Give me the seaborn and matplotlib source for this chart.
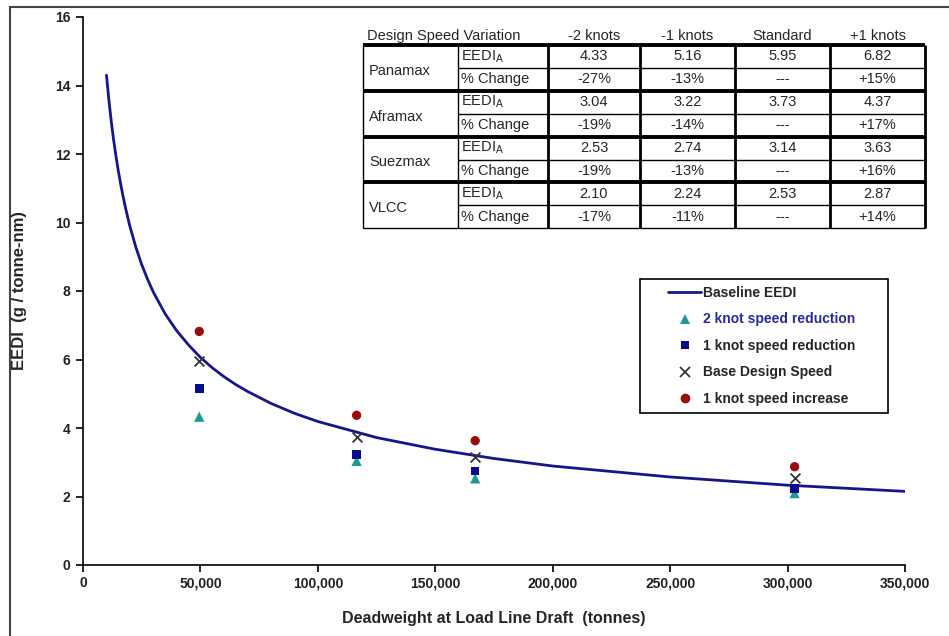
import numpy as np
import pandas as pd
import seaborn as sns
import matplotlib
matplotlib.use("Agg")
import matplotlib.pyplot as plt
from matplotlib.lines import Line2D
from matplotlib.patches import Rectangle

# ---------------- data ----------------
ships = ["Panamax", "Aframax", "Suezmax", "VLCC"]
ship_dwt = [49500, 116500, 167000, 303000]
speed_labels = ["-2 knots", "-1 knots", "Standard", "+1 knots"]
eedi_minus2 = [4.33, 3.04, 2.53, 2.10]
eedi_minus1 = [5.16, 3.22, 2.74, 2.24]
eedi_standard = [5.95, 3.73, 3.14, 2.53]
eedi_plus1 = [6.82, 4.37, 3.63, 2.87]
pct_minus2 = ["-27%", "-19%", "-19%", "-17%"]
pct_minus1 = ["-13%", "-14%", "-13%", "-11%"]
pct_standard = ["---", "---", "---", "---"]
pct_plus1 = ["+15%", "+17%", "+16%", "+14%"]

# baseline curve
curve_dwt = [10000, 11000, 12000, 13000, 14000, 15000, 16000, 17000, 18000,
             19000, 20000, 22500, 25000, 27500, 30000, 35000, 40000, 45000,
             50000, 55000, 60000, 65000, 70000, 80000, 90000, 100000, 125000,
             150000, 175000, 200000, 250000, 300000, 350000]
curve_eedi = [14.30, 13.59, 12.97, 12.43, 11.95, 11.52, 11.14, 10.78, 10.46,
              10.16, 9.88, 9.28, 8.77, 8.34, 7.96, 7.33, 6.83, 6.42,
              6.06, 5.76, 5.50, 5.27, 5.07, 4.72, 4.43, 4.19, 3.72,
              3.38, 3.11, 2.89, 2.57, 2.33, 2.15]

x_ticks = [0, 50000, 100000, 150000, 200000, 250000, 300000, 350000]
x_ticklabels = ["0", "50,000", "100,000", "150,000", "200,000", "250,000", "300,000", "350,000"]
y_ticks = [0, 2, 4, 6, 8, 10, 12, 14, 16]

series_names = ["2 knot speed reduction", "1 knot speed reduction",
                "Base Design Speed", "1 knot speed increase"]

# ---------------- style ----------------
sns.set_style("ticks")
plt.rcParams["font.family"] = ["Liberation Sans", "DejaVu Sans"]
plt.rcParams["mathtext.fontset"] = "custom"
plt.rcParams["mathtext.rm"] = "Liberation Sans"
plt.rcParams["mathtext.it"] = "Liberation Sans:italic"
plt.rcParams["mathtext.bf"] = "Liberation Sans:bold"

W, H = 949, 636
fig = plt.figure(figsize=(W / 100, H / 100), dpi=100)
ax = fig.add_axes([83 / W, 1 - 565 / H, 822 / W, 548 / H])

def fx(x):
    return x / W

def fy(y):
    return 1 - y / H

curve_df = pd.DataFrame({"dwt": curve_dwt, "eedi": curve_eedi})
sns.lineplot(data=curve_df, x="dwt", y="eedi", ax=ax, color="#16168a",
             linewidth=2.0, sort=False, estimator=None, legend=False)

pts = pd.DataFrame({
    "dwt": ship_dwt * 4,
    "eedi": eedi_minus2 + eedi_minus1 + eedi_standard + eedi_plus1,
    "series": sum([[s] * len(ships) for s in series_names], []),
})
marker_map = {"2 knot speed reduction": "^", "1 knot speed reduction": "s",
              "Base Design Speed": "x", "1 knot speed increase": "o"}
color_map = {"2 knot speed reduction": "#1e9a92", "1 knot speed reduction": "#0a0a8c",
             "Base Design Speed": "#333333", "1 knot speed increase": "#990d0d"}
size_map = {"2 knot speed reduction": 55, "1 knot speed reduction": 38,
            "Base Design Speed": 50, "1 knot speed increase": 45}
for s in series_names:
    sub = pts[pts["series"] == s]
    sns.scatterplot(data=sub, x="dwt", y="eedi", ax=ax, marker=marker_map[s],
                    color=color_map[s], s=size_map[s], linewidth=1.3 if s == "Base Design Speed" else 0,
                    edgecolor=None if s == "Base Design Speed" else "none", legend=False, zorder=3)

ax.set_xlim(0, 350000)
ax.set_ylim(0, 16)
ax.set_xticks(x_ticks)
ax.set_xticklabels(x_ticklabels)
ax.set_yticks(y_ticks)
for lbl in ax.get_xticklabels() + ax.get_yticklabels():
    lbl.set_fontweight("bold")
    lbl.set_fontsize(10)
    lbl.set_color("#222222")
ax.tick_params(axis="both", direction="out", length=5, width=1.2, color="black", pad=4)
ax.tick_params(axis="x", pad=3)
sns.despine(ax=ax)
for sp in ["left", "bottom"]:
    ax.spines[sp].set_linewidth(1.2)
    ax.spines[sp].set_color("black")
ax.set_xlabel("Deadweight at Load Line Draft  (tonnes)", fontsize=11.5, fontweight="bold", labelpad=15)
ax.set_ylabel("EEDI  (g / tonne-nm)", fontsize=12, fontweight="bold", labelpad=20)

# ---------------- legend ----------------
handles = [
    Line2D([], [], color="#16168a", lw=2.0),
    Line2D([], [], ls="none", marker="^", color=color_map[series_names[0]], markersize=7, markeredgewidth=0),
    Line2D([], [], ls="none", marker="s", color=color_map[series_names[1]], markersize=6, markeredgewidth=0),
    Line2D([], [], ls="none", marker="x", color=color_map[series_names[2]], markersize=7, markeredgewidth=1.3),
    Line2D([], [], ls="none", marker="o", color=color_map[series_names[3]], markersize=7, markeredgewidth=0),
]
labels = ["Baseline EEDI"] + series_names
leg = ax.legend(handles, labels, loc="upper left", bbox_to_anchor=(fx(661), fy(279)),
                bbox_transform=fig.transFigure, frameon=False,
                prop={"weight": "bold", "size": 10}, handlelength=2.4,
                handletextpad=0.1, labelspacing=0.9, borderpad=0)
leg.get_texts()[1].set_color("#2a2a9c")
fig.add_artist(Rectangle((fx(640), fy(413)), fx(888) - fx(640), fy(279) - fy(413),
                         transform=fig.transFigure, fill=False, edgecolor="black", lw=1.2))

# ---------------- table ----------------
col_x = [363, 458, 548, 640, 735, 830, 925]
row_top = 45
row_h = 22.9
row_y = [row_top + i * row_h for i in range(9)]
thin, thick = 1.0, 2.8

def hline(y, x0, x1, lw):
    fig.add_artist(Line2D([fx(x0), fx(x1)], [fy(y), fy(y)], transform=fig.transFigure,
                          color="black", lw=lw, solid_capstyle="butt"))

def vline(x, y0, y1, lw):
    fig.add_artist(Line2D([fx(x), fx(x)], [fy(y0), fy(y1)], transform=fig.transFigure,
                          color="black", lw=lw, solid_capstyle="butt"))

for g in range(4):
    hline(row_y[2 * g], col_x[0], col_x[-1], thick)
    hline(row_y[2 * g + 1], col_x[1], col_x[-1], thin)
hline(row_y[8], col_x[0], col_x[-1], thin)
vline(col_x[0], row_y[0], row_y[8], thin)
vline(col_x[1], row_y[0], row_y[8], thin)
for c in col_x[2:]:
    vline(c, row_y[0], row_y[8], 2.0)

tfs = 10.5
fig.text(fx(367), fy(36), "Design Speed Variation", fontsize=tfs, ha="left", va="center")
for j, lab in enumerate(speed_labels):
    fig.text(fx((col_x[j + 2] + col_x[j + 3]) / 2), fy(36), lab, fontsize=tfs, ha="center", va="center")

eedi_cols = [eedi_minus2, eedi_minus1, eedi_standard, eedi_plus1]
pct_cols = [pct_minus2, pct_minus1, pct_standard, pct_plus1]
for g, ship in enumerate(ships):
    ya = (row_y[2 * g] + row_y[2 * g + 1]) / 2
    yb = (row_y[2 * g + 1] + row_y[2 * g + 2]) / 2
    fig.text(fx(369), fy((ya + yb) / 2 + 3), ship, fontsize=tfs, ha="left", va="center")
    fig.text(fx(461), fy(ya), r"EEDI$_{\mathrm{A}}$", fontsize=tfs, ha="left", va="center")
    fig.text(fx(461), fy(yb), "% Change", fontsize=tfs, ha="left", va="center")
    for j in range(4):
        cx = fx((col_x[j + 2] + col_x[j + 3]) / 2)
        fig.text(cx, fy(ya), f"{eedi_cols[j][g]:.2f}", fontsize=tfs, ha="center", va="center")
        fig.text(cx, fy(yb), pct_cols[j][g], fontsize=tfs, ha="center", va="center")

# outer frame (left and top edges visible)
fig.add_artist(Rectangle((fx(10), -0.2), 2, fy(7) + 0.2, transform=fig.transFigure,
                         fill=False, edgecolor="#444444", lw=1.5))

fig.savefig("out.png", dpi=100)
